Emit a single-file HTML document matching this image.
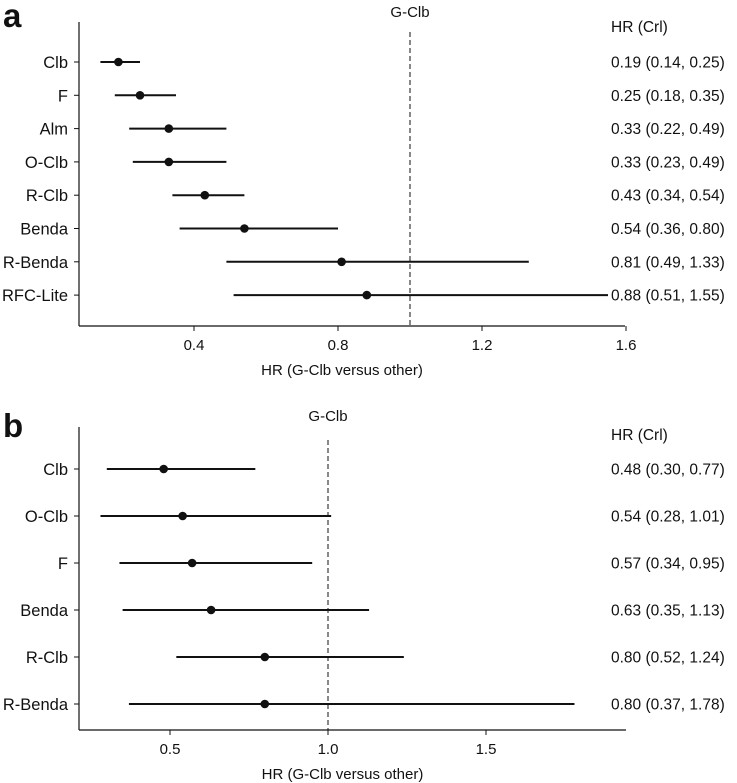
<!DOCTYPE html>
<html><head><meta charset="utf-8">
<style>
body{margin:0;background:#fff;}
svg{display:block;font-family:"Liberation Sans",Arial,sans-serif;}
</style></head>
<body>
<svg id="chart" width="737" height="783" viewBox="0 0 737 783"></svg>
<script>
const catsA = ["Clb","F","Alm","O-Clb","R-Clb","Benda","R-Benda","RFC-Lite"];
const hrA = [0.19,0.25,0.33,0.33,0.43,0.54,0.81,0.88];
const loA = [0.14,0.18,0.22,0.23,0.34,0.36,0.49,0.51];
const hiA = [0.25,0.35,0.49,0.49,0.54,0.80,1.33,1.55];
const ticksA = [0.4,0.8,1.2,1.6];
const tickLabelsA = ["0.4","0.8","1.2","1.6"];
const labelsA = ["0.19 (0.14, 0.25)","0.25 (0.18, 0.35)","0.33 (0.22, 0.49)","0.33 (0.23, 0.49)","0.43 (0.34, 0.54)","0.54 (0.36, 0.80)","0.81 (0.49, 1.33)","0.88 (0.51, 1.55)"];

const catsB = ["Clb","O-Clb","F","Benda","R-Clb","R-Benda"];
const hrB = [0.48,0.54,0.57,0.63,0.80,0.80];
const loB = [0.30,0.28,0.34,0.35,0.52,0.37];
const hiB = [0.77,1.01,0.95,1.13,1.24,1.78];
const ticksB = [0.5,1.0,1.5];
const tickLabelsB = ["0.5","1.0","1.5"];
const labelsB = ["0.48 (0.30, 0.77)","0.54 (0.28, 1.01)","0.57 (0.34, 0.95)","0.63 (0.35, 1.13)","0.80 (0.52, 1.24)","0.80 (0.37, 1.78)"];

const svg = document.getElementById('chart');
const NS = 'http://www.w3.org/2000/svg';
function mk(tag, attrs, parent){
  const e = document.createElementNS(NS, tag);
  for (const k in attrs) e.setAttribute(k, attrs[k]);
  (parent||svg).appendChild(e);
  return e;
}
function txt(x,y,s,anchor,size,weight,parent){
  const t = mk('text',{x:x,y:y,'text-anchor':anchor,'font-size':size,'font-weight':weight||'normal',fill:'#111'},parent);
  t.textContent = s;
  return t;
}

function panel(cfg){
  const g = mk('g',{});
  
  
  const x = v => cfg.x0 + (v - cfg.v0) * cfg.k;
  const y = i => cfg.y0 + i * cfg.dy;
  const letter = txt(cfg.letterX, cfg.letterY, cfg.letter, 'start', 33, 'bold', g);
  
  
  const yAxis = mk('line',{x1:cfg.left,y1:cfg.top,x2:cfg.left,y2:cfg.bottom,stroke:'#111','stroke-width':1.2},g);
  
  
  const xAxis = mk('line',{x1:cfg.left,y1:cfg.bottom,x2:cfg.right,y2:cfg.bottom,stroke:'#111','stroke-width':1.2},g);
  
  
  cfg.ticks.forEach((t,i)=>{
    const tl = mk('line',{x1:x(t),y1:cfg.bottom,x2:x(t),y2:cfg.bottom+5,stroke:'#111'},g);
    
    
    const tt = txt(x(t), cfg.bottom+24, cfg.tickLabels[i], 'middle', 15, 'normal', g);
    
    
  });
  const xt = txt((cfg.left+cfg.right)/2 - 10, cfg.bottom+49, 'HR (G-Clb versus other)', 'middle', 15, 'normal', g);
  
  
  const ref = mk('line',{x1:x(1),y1:cfg.refTop,x2:x(1),y2:cfg.bottom,stroke:'#111','stroke-dasharray':'5,3'},g);
  
  
  const rl = txt(x(1), cfg.refLabelY, 'G-Clb', 'middle', 15, 'normal', g);
  
  
  const hh = txt(611, cfg.headerY, 'HR (Crl)', 'start', 15.5, 'normal', g);
  
  
  cfg.cats.forEach((c,i)=>{
    const yy = y(i);
    const tk = mk('line',{x1:cfg.left-5,y1:yy,x2:cfg.left,y2:yy,stroke:'#111'},g);
    
    
    const cl = txt(cfg.left-11, yy+6, c, 'end', 16.5, 'normal', g);
    
    
    const ci = mk('line',{x1:x(cfg.lo[i]),y1:yy,x2:x(cfg.hi[i]),y2:yy,stroke:'#111','stroke-width':2},g);
    
    
    const pt = mk('circle',{cx:x(cfg.hr[i]),cy:yy,r:4.3,fill:'#111'},g);
    
    
    const vl = txt(611, yy+5.5, cfg.labels[i], 'start', 15.5, 'normal', g);
    
    
  });
}

panel({name:'panel-a',letter:'a',letterX:3,letterY:27,cats:catsA,hr:hrA,lo:loA,hi:hiA,ticks:ticksA,tickLabels:tickLabelsA,labels:labelsA,
  x0:194,v0:0.4,k:360,y0:62,dy:33.3,left:79,right:625,top:22,bottom:326,refTop:32,refLabelY:17,headerY:32});
panel({name:'panel-b',letter:'b',letterX:3,letterY:437,cats:catsB,hr:hrB,lo:loB,hi:hiB,ticks:ticksB,tickLabels:tickLabelsB,labels:labelsB,
  x0:170,v0:0.5,k:316,y0:469,dy:47,left:79,right:626,top:427,bottom:730,refTop:440,refLabelY:421,headerY:440});
</script>
</body></html>
